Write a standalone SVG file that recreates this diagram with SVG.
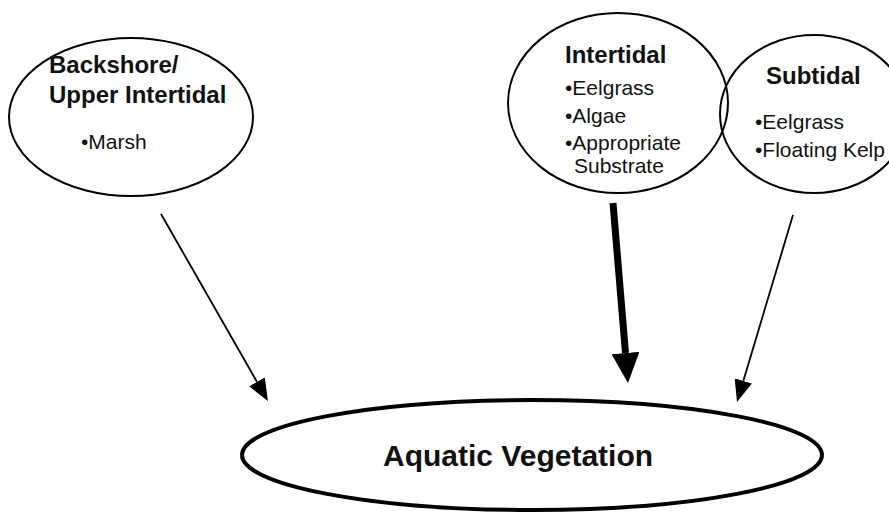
<svg xmlns="http://www.w3.org/2000/svg" width="889" height="514" viewBox="0 0 889 514">
  <style>
    .node { fill: none; stroke: #000; stroke-width: 2; }
    .main { fill: #fff; stroke: #000; stroke-width: 4; }
    .title { font-family: "Liberation Sans", Arial, sans-serif; font-weight: bold; font-size: 24px; fill: #111; }
    .item { font-family: "Liberation Sans", Arial, sans-serif; font-size: 21px; fill: #111; }
    .big { font-family: "Liberation Sans", Arial, sans-serif; font-weight: bold; font-size: 30px; fill: #111; }
    .thin { stroke: #000; stroke-width: 1.8; fill: none; }
    .thick { stroke: #000; stroke-width: 7; fill: none; }
  </style>
  <defs>
    <marker id="head" viewBox="0 0 22 18" refX="0" refY="9" markerWidth="22" markerHeight="18" markerUnits="userSpaceOnUse" orient="auto">
      <path d="M0,0 L22,9 L0,18 z" fill="#000"/>
    </marker>
    <marker id="headBig" viewBox="0 0 30 28" refX="0" refY="14" markerWidth="30" markerHeight="28" markerUnits="userSpaceOnUse" orient="auto">
      <path d="M0,0 L30,14 L0,28 z" fill="#000"/>
    </marker>
  </defs>
  <rect width="889" height="514" fill="#fff"/>

  <g id="connectors">
    <line class="thin" x1="161" y1="214" x2="257" y2="381.9" marker-end="url(#head)"/>
    <line class="thick" x1="613" y1="203" x2="625.5" y2="353" marker-end="url(#headBig)"/>
    <line class="thin" x1="793" y1="215" x2="743.3" y2="380.9" marker-end="url(#head)"/>
  </g>

  <g id="backshore">
    <ellipse class="node" cx="131" cy="117" rx="122" ry="79"/>
    <text class="title" x="49" y="73">Backshore/</text>
    <text class="title" x="49" y="103">Upper Intertidal</text>
    <text class="item" x="81" y="149">•Marsh</text>
  </g>

  <g id="intertidal">
    <ellipse class="node" cx="618" cy="103" rx="110" ry="90"/>
    <text class="title" x="565" y="63">Intertidal</text>
    <text class="item" x="565" y="95">•Eelgrass</text>
    <text class="item" x="565" y="123">•Algae</text>
    <text class="item" x="565" y="150">•Appropriate</text>
    <text class="item" x="574" y="173">Substrate</text>
  </g>

  <g id="subtidal">
    <ellipse class="node" cx="814" cy="114" rx="94" ry="79"/>
    <text class="title" x="766" y="84">Subtidal</text>
    <text class="item" x="755" y="129">•Eelgrass</text>
    <text class="item" x="755" y="157">•Floating Kelp</text>
  </g>

  <g id="aquatic">
    <ellipse class="main" cx="532" cy="455" rx="290" ry="55"/>
    <text class="big" x="383" y="466">Aquatic Vegetation</text>
  </g>
</svg>
